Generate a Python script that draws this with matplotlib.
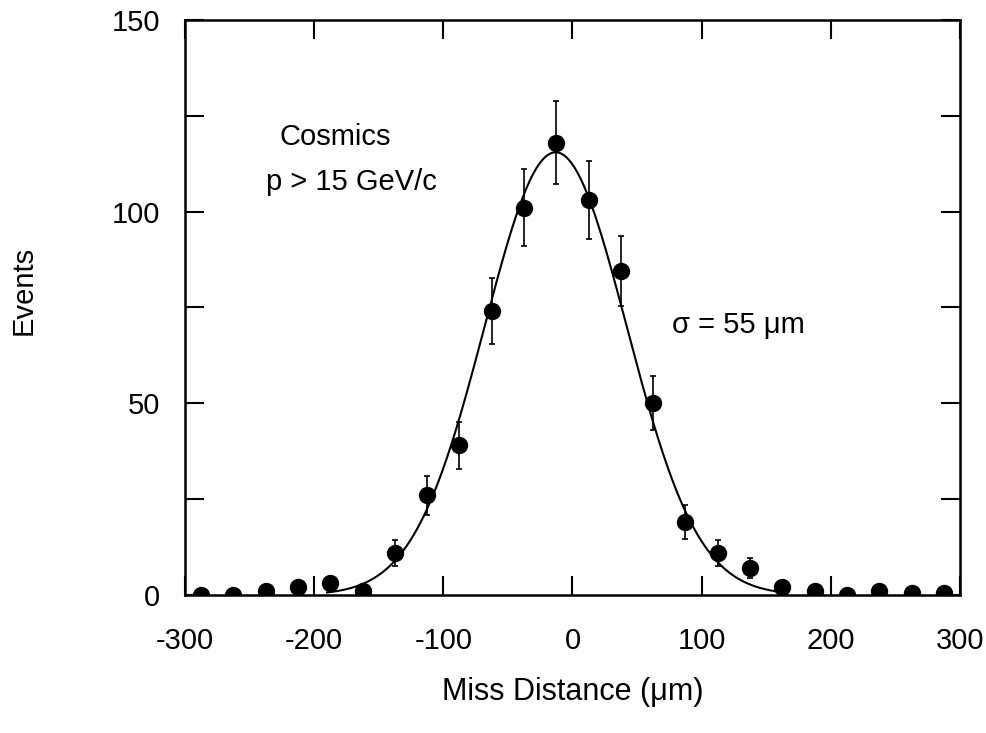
import matplotlib
matplotlib.use('Agg')
import matplotlib.pyplot as plt
import numpy as np

plt.rcParams['font.family'] = ['Liberation Sans', 'DejaVu Sans']
plt.rcParams['axes.unicode_minus'] = False

# bin centres (um) and event counts
miss = [-287.5, -262.5, -237.5, -212.5, -187.5, -162.5, -137.5, -112.5,
        -87.5, -62.5, -37.5, -12.5, 12.5, 37.5, 62.5, 87.5,
        112.5, 137.5, 162.5, 187.5, 212.5, 237.5, 262.5, 287.5]
events = [0, 0, 1, 2, 3, 1, 11, 26,
          39, 74, 101, 118, 103, 84.5, 50, 19,
          11, 7, 2, 1, 0, 1, 0.5, 0.5]

# gaussian fit
fit_amp = 115.5
fit_mean = -13
fit_sigma = 55

fig = plt.figure(figsize=(9.87, 7.33), dpi=100)
ax = fig.add_axes([0.1874, 0.1883, 0.9726 - 0.1874, 0.9727 - 0.1883])

x = np.array(miss)
y = np.array(events)
err = np.sqrt(y)

xf = np.linspace(-190, 165, 400)
yf = fit_amp * np.exp(-0.5 * ((xf - fit_mean) / fit_sigma) ** 2)
ax.plot(xf, yf, color='black', lw=1.5, zorder=2)

ax.errorbar(x, y, yerr=err, fmt='o', color='black', ms=11.5,
            ecolor='black', elinewidth=1.2, capsize=2.5, capthick=1.2, zorder=3)

ax.set_xlim(-300, 300)
ax.set_ylim(0, 150)
ax.set_xticks(np.arange(-300, 301, 100))
ax.set_yticks(np.arange(0, 151, 50))
ax.set_yticks(np.arange(25, 150, 50), minor=True)

ax.tick_params(axis='both', which='both', direction='in', top=True, right=True,
               length=14, width=1.5, labelsize=21)
ax.tick_params(axis='x', pad=23)
ax.tick_params(axis='y', pad=18)
for s in ax.spines.values():
    s.set_linewidth(1.8)

ax.set_xlabel('Miss Distance (\u03bcm)', fontsize=22, labelpad=16)
ax.set_ylabel('Events', fontsize=21)
ax.yaxis.set_label_coords(-0.19, 0.53)

ax.text(-184, 119.5, 'Cosmics', fontsize=21, ha='center', va='center')
ax.text(-171, 107.7, 'p > 15 GeV/c', fontsize=21, ha='center', va='center')
ax.text(77, 70.4, '\u03c3 = 55 \u03bcm', fontsize=21, ha='left', va='center')

fig.savefig('out.png', dpi=100)
